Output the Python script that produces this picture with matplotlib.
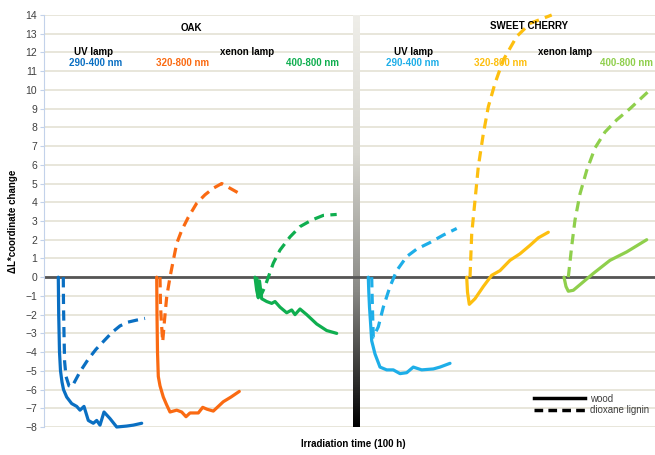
import matplotlib
matplotlib.use("Agg")
import matplotlib.pyplot as plt
import numpy as np
from matplotlib.colors import LinearSegmentedColormap
from matplotlib.lines import Line2D

plt.rcParams['font.family'] = ['Liberation Sans', 'DejaVu Sans']

# oak, UV lamp 290-400 nm
oak_uv_wood_x = [1.43, 1.47, 1.55, 1.65, 1.80, 1.95, 2.27, 2.77, 3.27, 3.60, 4.00, 4.43, 4.93, 5.27, 5.60, 6.00, 6.60, 7.27, 8.27, 8.93, 9.77]
oak_uv_wood_y = [0, -2, -4, -5, -5.6, -6.0, -6.4, -6.75, -6.9, -7.1, -6.9, -7.65, -7.8, -7.65, -7.9, -7.2, -7.55, -8.0, -7.95, -7.9, -7.8]
oak_uv_lig_x = [1.93, 1.95, 2.00, 2.06, 2.20, 2.50, 2.80, 3.60, 4.40, 5.20, 6.00, 6.80, 7.60, 8.40, 9.20, 10.10]
oak_uv_lig_y = [0, -1.5, -3, -4.5, -5.3, -5.8, -5.85, -5.05, -4.4, -3.85, -3.4, -2.95, -2.6, -2.4, -2.3, -2.2]

# oak, xenon 320-800 nm
oak_x320_wood_x = [11.27, 11.30, 11.35, 11.43, 11.60, 11.93, 12.25, 12.60, 13.27, 13.77, 14.20, 14.60, 15.43, 15.87, 16.30, 16.93, 17.93, 18.70, 19.53]
oak_x320_wood_y = [0, -2, -4, -5.3, -5.8, -6.4, -6.8, -7.2, -7.1, -7.2, -7.45, -7.25, -7.25, -6.95, -7.05, -7.15, -6.65, -6.4, -6.1]
oak_x320_lig_x = [11.60, 11.65, 11.75, 11.87, 12.05, 12.27, 12.60, 12.93, 13.27, 13.77, 14.43, 15.27, 16.10, 16.93, 17.77, 18.60, 19.77]
oak_x320_lig_y = [0, -1.5, -2.5, -3.45, -2.3, -1.05, 0, 0.9, 1.8, 2.5, 3.2, 3.95, 4.4, 4.75, 5.0, 4.75, 4.4]

# oak, xenon 400-800 nm
oak_x400_wood_x = [21.10, 21.27, 21.43, 21.55, 21.77, 22.27, 22.77, 23.10, 23.60, 24.27, 24.77, 25.10, 25.60, 26.27, 27.27, 28.27, 29.27]
oak_x400_wood_y = [0, -0.7, -1.1, -0.2, -1.15, -1.3, -1.4, -1.3, -1.6, -1.9, -1.75, -2.0, -1.7, -2.0, -2.5, -2.85, -3.0]
oak_x400_lig_x = [21.27, 21.45, 21.67, 22.10, 22.43, 22.93, 23.60, 24.60, 25.60, 26.77, 27.93, 29.27]
oak_x400_lig_y = [0, -0.6, -1.0, -0.5, 0, 0.75, 1.45, 2.15, 2.7, 3.05, 3.3, 3.35]

# sweet cherry, UV lamp 290-400 nm
ch_uv_wood_x = [32.43, 32.48, 32.55, 32.65, 32.77, 33.10, 33.60, 34.27, 34.93, 35.60, 36.27, 36.93, 37.77, 38.93, 39.60, 40.60]
ch_uv_wood_y = [0, -0.8, -1.6, -2.4, -3.4, -4.1, -4.8, -4.95, -4.95, -5.15, -5.1, -4.8, -4.95, -4.9, -4.8, -4.6]
ch_uv_lig_x = [32.77, 32.82, 32.88, 32.93, 33.43, 33.93, 34.60, 35.27, 36.27, 37.27, 38.60, 39.93, 41.27]
ch_uv_lig_y = [0, -1.2, -2.3, -3.2, -2.65, -1.6, -0.5, 0.35, 1.1, 1.5, 1.85, 2.25, 2.6]

# sweet cherry, xenon 320-800 nm
ch_x320_wood_x = [42.27, 42.35, 42.53, 43.10, 43.93, 44.77, 45.60, 46.60, 47.60, 48.60, 49.43, 50.43]
ch_x320_wood_y = [0, -0.8, -1.45, -1.15, -0.5, 0.1, 0.35, 0.9, 1.25, 1.7, 2.1, 2.4]
ch_x320_lig_x = [42.60, 42.77, 43.10, 43.43, 43.93, 44.43, 45.10, 45.93, 47.27, 48.60, 50.77]
ch_x320_lig_y = [0, 2.3, 4.1, 5.9, 7.65, 9.1, 10.35, 11.6, 12.85, 13.55, 14.0]

# sweet cherry, xenon 400-800 nm
ch_x400_wood_x = [52.00, 52.20, 52.43, 52.93, 53.93, 54.93, 56.60, 58.27, 60.27]
ch_x400_wood_y = [0, -0.5, -0.75, -0.7, -0.25, 0.2, 0.9, 1.35, 2.0]
ch_x400_lig_x = [52.43, 52.77, 53.10, 53.60, 54.27, 55.10, 56.10, 57.27, 58.60, 60.60]
ch_x400_lig_y = [0, 1.65, 3.05, 4.45, 5.7, 6.9, 7.75, 8.4, 9.0, 10.0]

series = [
    (oak_uv_wood_x, oak_uv_wood_y, oak_uv_lig_x, oak_uv_lig_y, '#0a6fc2'),
    (oak_x320_wood_x, oak_x320_wood_y, oak_x320_lig_x, oak_x320_lig_y, '#fa6a12'),
    (oak_x400_wood_x, oak_x400_wood_y, oak_x400_lig_x, oak_x400_lig_y, '#0fae4f'),
    (ch_uv_wood_x, ch_uv_wood_y, ch_uv_lig_x, ch_uv_lig_y, '#1eaee8'),
    (ch_x320_wood_x, ch_x320_wood_y, ch_x320_lig_x, ch_x320_lig_y, '#fdbf0f'),
    (ch_x400_wood_x, ch_x400_wood_y, ch_x400_lig_x, ch_x400_lig_y, '#8fcf4c'),
]

fig = plt.figure(figsize=(6.55, 4.55), dpi=100)
ax = fig.add_axes([44 / 655, 1 - 427 / 455, 611 / 655, 412 / 455])
ax.set_yticks(np.arange(-8, 15, 1))
ax.set_xticks([])
for s in ['top', 'right', 'bottom']:
    ax.spines[s].set_visible(False)
ax.spines['left'].set_color('#c3d2ea')
ax.tick_params(axis='y', length=3, color='#c3d2ea', labelsize=7.5, labelcolor='#404040', pad=2)
ax.grid(axis='y', color='#e4e2d4', lw=1.2)
ax.set_axisbelow(True)

# gradient divider between OAK and SWEET CHERRY (light at top, black at bottom)
div_x = 31.25
grad = np.linspace(0, 1, 256).reshape(-1, 1)
cmap = LinearSegmentedColormap.from_list('div', ['#efeee9', '#d8d7d0', '#8a8a86', '#000000'])
ax.imshow(grad, extent=[div_x - 0.35, div_x + 0.35, -8, 14], origin='upper',
          aspect='auto', cmap=cmap, zorder=1)
ax.set_xlim(0, 61.1)
ax.set_ylim(-8, 14)

ax.axhline(0, color='#555555', lw=2, zorder=2)

for wx, wy, lx, ly, c in series:
    ax.plot(wx, wy, color=c, lw=2.3, solid_capstyle='round', solid_joinstyle='round', clip_on=False, zorder=3)
    ax.plot(lx, ly, color=c, lw=2.3, dashes=(3.2, 2.0), clip_on=False, zorder=3)

# annotations
kw = dict(ha='center', va='center', fontsize=7, fontweight='bold')
ax.text(14.7, 13.3, 'OAK', **kw)
ax.text(5.0, 12.0, 'UV lamp', **kw)
ax.text(5.2, 11.45, '290-400 nm', color='#0a6fc2', **kw)
ax.text(13.9, 11.45, '320-800 nm', color='#fa6a12', **kw)
ax.text(20.3, 12.05, 'xenon lamp', **kw)
ax.text(26.9, 11.45, '400-800 nm', color='#0fae4f', **kw)
ax.text(48.5, 13.4, 'SWEET CHERRY', **kw)
ax.text(36.9, 12.0, 'UV lamp', **kw)
ax.text(36.9, 11.45, '290-400 nm', color='#1eaee8', **kw)
ax.text(45.7, 11.45, '320-800 nm', color='#fdbf0f', **kw)
ax.text(52.1, 12.05, 'xenon lamp', **kw)
ax.text(58.3, 11.45, '400-800 nm', color='#8fcf4c', **kw)

ax.set_ylabel('ΔL*coordinate change', fontsize=7, fontweight='bold', labelpad=5)
fig.text(353 / 655, 1 - 444 / 455, 'Irradiation time (100 h)', ha='center', va='center',
         fontsize=7, fontweight='bold')

handles = [Line2D([], [], color='black', lw=2.5),
           Line2D([], [], color='black', lw=2.5, dashes=(2.5, 1.5))]
fig.legend(handles, ['wood', 'dioxane lignin'], loc='upper left',
           bbox_to_anchor=(529 / 655, 1 - 389 / 455), frameon=False, fontsize=7,
           handlelength=5.3, handletextpad=0.45, labelspacing=0.15, borderpad=0,
           labelcolor='#404040')

fig.savefig('out.png', dpi=100)
